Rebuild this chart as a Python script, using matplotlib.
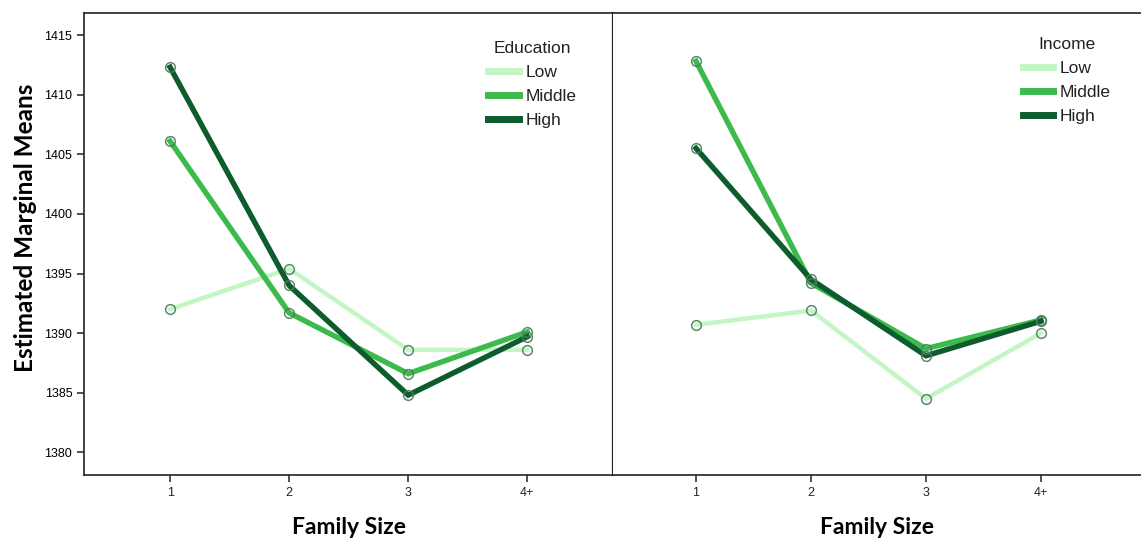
import numpy as np
import matplotlib.pyplot as plt

# Estimated marginal means by family size
sizes = ["1", "2", "3", "4+"]
groups = ["Low", "Middle", "High"]

edu_low = [1392.0, 1395.4, 1388.6, 1388.6]
edu_middle = [1406.1, 1391.7, 1386.6, 1390.1]
edu_high = [1412.3, 1394.0, 1384.8, 1389.7]

inc_low = [1390.7, 1391.9, 1384.5, 1390.0]
inc_middle = [1412.8, 1394.2, 1388.7, 1391.1]
inc_high = [1405.5, 1394.5, 1388.1, 1391.0]

colors = ["#c4f5c4", "#3cba4c", "#0d5c2e"]
widths = [3.2, 3.9, 3.9]

plt.rcParams['font.family'] = ['Liberation Sans', 'DejaVu Sans']
bold_font = ['Lato', 'Open Sans', 'DejaVu Sans']

fig = plt.figure(figsize=(11.41, 5.38), dpi=100)
ax1 = fig.add_axes([84 / 1141, 63 / 538, 529 / 1141, 462 / 538])
ax2 = fig.add_axes([613 / 1141, 63 / 538, 528 / 1141, 462 / 538])

x = np.arange(1, len(sizes) + 1)


def draw(ax, series, title, anchor):
    for vals, name, c, lw in zip(series, groups, colors, widths):
        ax.plot(x, vals, color=c, lw=lw, label=name, solid_joinstyle='miter')
    for vals in series:
        ax.plot(x, vals, ls='none', marker='o', ms=7, mfc='none',
                mec='#4a7d5a', mew=1.1, alpha=0.9)
    ax.set_xticks(x)
    ax.set_xticklabels(sizes, fontsize=9, color='#222222')
    ax.set_ylim(1378.1, 1416.85)
    ax.tick_params(direction='out', length=5, width=1.2, color='#333333')
    ax.set_xlabel("Family Size", fontsize=16.5, fontweight='bold',
                  family=bold_font, labelpad=13)
    leg = ax.legend(title=title, frameon=False, fontsize=12.5, title_fontsize=12.5,
                    handlelength=1.75, handletextpad=0.4, labelspacing=0.5,
                    loc='upper left', bbox_to_anchor=anchor,
                    borderaxespad=0, borderpad=0)
    leg.get_title().set_color('#222222')
    for t in leg.get_texts():
        t.set_color('#222222')
    for line in leg.get_lines():
        line.set_linewidth(5)
    for sp in ax.spines.values():
        sp.set_linewidth(1.2)
        sp.set_color('#222222')


draw(ax1, [edu_low, edu_middle, edu_high], "Education", (0.764, 0.939))
draw(ax2, [inc_low, inc_middle, inc_high], "Income", (0.776, 0.947))

ax1.set_xlim(0.277, 4.72)
ax2.set_xlim(0.278, 4.87)
ax1.spines['right'].set_linewidth(1.6)

ax1.set_yticks(np.arange(1380, 1416, 5))
ax1.tick_params(axis='y', labelsize=9)
ax1.set_ylabel("Estimated Marginal Means", fontsize=17.5, fontweight='bold',
               family=bold_font)
ax1.yaxis.set_label_coords(-0.088, 0.535)

ax2.set_yticks([])
ax2.spines['right'].set_visible(False)
ax2.spines['left'].set_visible(False)

fig.savefig("out.png", dpi=100)
